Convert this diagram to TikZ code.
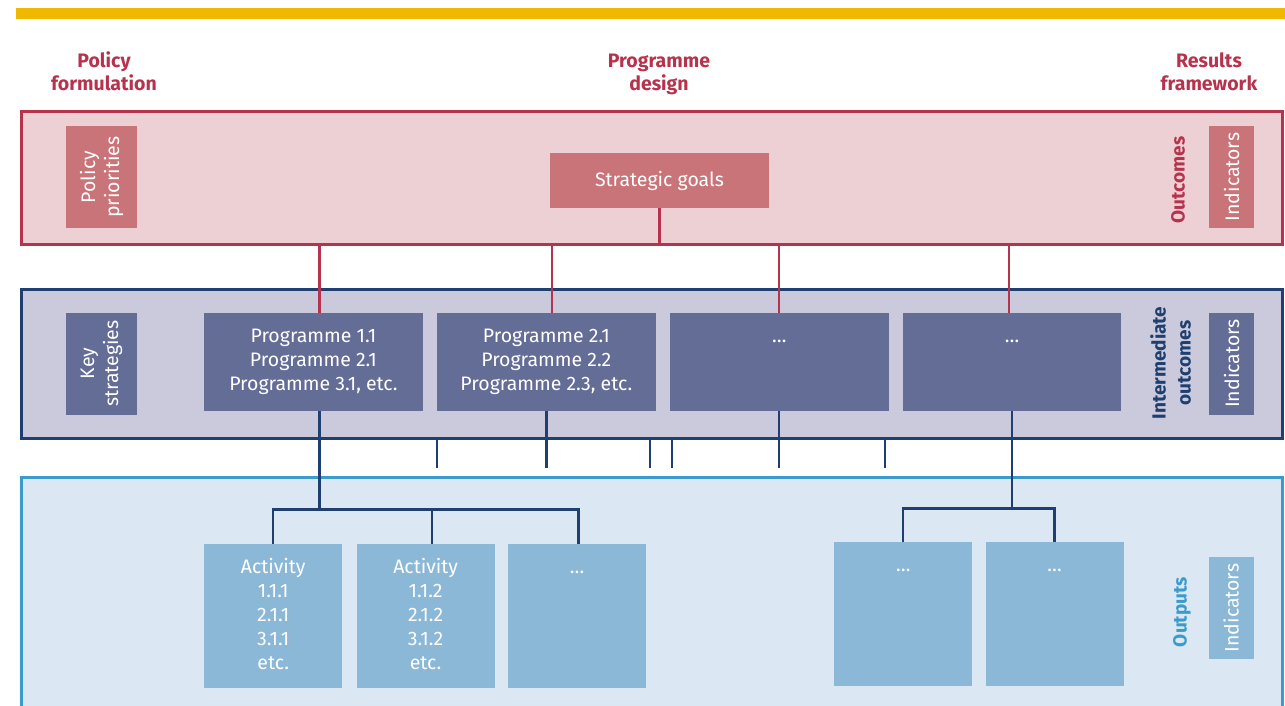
\documentclass[tikz,border=0pt]{standalone}
\usepackage{fontspec}
\setmainfont{Fira Sans}
\usetikzlibrary{positioning,calc}
\definecolor{barYellow}{HTML}{F1B800}
\definecolor{redLine}{HTML}{B7324C}
\definecolor{pinkFill}{HTML}{EDD0D3}
\definecolor{roseBox}{HTML}{C97479}
\definecolor{navyLine}{HTML}{1E3F6F}
\definecolor{lilacFill}{HTML}{CBCADC}
\definecolor{slateBox}{HTML}{646D96}
\definecolor{blueLine}{HTML}{3B9CCB}
\definecolor{skyFill}{HTML}{DBE7F3}
\definecolor{skyBox}{HTML}{8BB8D6}
\newcommand{\toptext}[2]{\parbox[c][#1][t]{110pt}{\centering\rule{0pt}{29pt}#2}}
\tikzset{
    heading/.style={
           align=center,
           text=redLine,
           font=\fontsize{19.5}{23.5}\selectfont\bfseries},
    band/.style={
           rectangle,
           line width=2.5pt,
           inner sep=0pt,
           anchor=north west,
           minimum width=1261pt},
    box/.style={
           rectangle,
           inner sep=0pt,
           text=white,
           align=center},
    sidebox/.style={
           box,
           rotate=90,
           minimum width=102pt},
    sidelabel/.style={
           rotate=90,
           inner sep=0pt,
           align=center,
           font=\fontsize{19}{25}\selectfont\bfseries},
    progbox/.style={
           box,
           fill=slateBox,
           minimum width=218.5pt,
           minimum height=98pt},
    actbox/.style={
           box,
           fill=skyBox,
           minimum width=138pt,
           minimum height=144pt},
    redlink/.style={draw=redLine, line width=2.3pt},
    navylink/.style={draw=navyLine, line width=2.3pt},
}
\begin{document}
\begin{tikzpicture}[x=1pt,y=-1pt,font=\fontsize{19.5}{24}\selectfont]
\useasboundingbox (0,0) rectangle (1285,705);

 % top rule and headings
 \fill[barYellow] (16,8) rectangle (1285,19);
 \node[heading, anchor=base] (POLICYHEAD) at (104,90.5) {Policy\\formulation};
 \node[heading, anchor=base] (DESIGNHEAD) at (659,90.5) {Programme\\design};
 \node[heading, anchor=base] (RESULTSHEAD) at (1209,90.5) {Results\\framework};

 % bands
 \node[band, draw=redLine, fill=pinkFill, minimum height=133pt] (OUTCOMEBAND) at (20,110) {};
 \node[band, draw=navyLine, fill=lilacFill, minimum height=149pt] (MIDBAND) at (20,288) {};
 \node[band, draw=blueLine, fill=skyFill, minimum height=250pt] (OUTPUTBAND) at (20,476) {};

 % outcomes
 \node[sidebox, fill=roseBox, minimum height=71pt] (POLICYPRIO) at (101.5,177) {Policy\\priorities};
 \node[box, fill=roseBox, minimum width=219pt, minimum height=55pt] (STRATGOALS) at (659.5,180.5) {Strategic goals};
 \node[sidelabel, text=redLine] (OUTCOMESLBL) at (1178,180) {Outcomes};
 \node[sidebox, fill=roseBox, minimum height=45pt] (INDTOP) at (1231.5,177) {Indicators};

 % intermediate outcomes
 \node[sidebox, fill=slateBox, minimum height=71pt] (KEYSTRAT) at (101.5,363.5) {Key\\strategies};
 \node[progbox, anchor=north west] (PROGA) at (204,313)
 {Programme 1.1\\Programme 2.1\\Programme 3.1, etc.};
 \node[progbox, right=14pt of PROGA] (PROGB)
 {Programme 2.1\\Programme 2.2\\Programme 2.3, etc.};
 \node[progbox, right=14pt of PROGB] (PROGC) {\toptext{98pt}{\ldots}};
 \node[progbox, right=14pt of PROGC] (PROGD) {\toptext{98pt}{\ldots}};
 \node[sidelabel, text=navyLine] (INTERLBL) at (1170.5,363) {Intermediate\\outcomes};
 \node[sidebox, fill=slateBox, minimum height=45pt] (INDMID) at (1231.5,363.5) {Indicators};

 % outputs
 \node[actbox, anchor=north west] (ACTA) at (204,544)
 {\toptext{144pt}{Activity\\1.1.1\\2.1.1\\3.1.1\\etc.}};
 \node[actbox, right=14pt of ACTA] (ACTB)
 {\toptext{144pt}{Activity\\1.1.2\\2.1.2\\3.1.2\\etc.}};
 \node[actbox, right=13pt of ACTB] (ACTC) {\toptext{144pt}{\ldots}};
 \node[actbox, anchor=north west] (ACTD) at (834,542) {\toptext{144pt}{\ldots}};
 \node[actbox, right=13pt of ACTD] (ACTE) {\toptext{144pt}{\ldots}};
 \node[sidelabel, text=blueLine] (OUTPUTSLBL) at (1182,612) {Outputs};
 \node[sidebox, fill=skyBox, minimum height=45pt] (INDBOT) at (1231,608) {Indicators};

 % red links
 \path[redlink] (STRATGOALS.south) -- (STRATGOALS.south |- OUTCOMEBAND.south);
 \foreach \prog/\dx in {PROGA/6,PROGB/5.5,PROGC/0,PROGD/-3.5}
   \path[redlink] ($(\prog.north)+(\dx,0)$) -- ($(\prog.north |- OUTCOMEBAND.south)+(\dx,0)$);

 % navy links
 \coordinate (LEFTFORK) at ($(PROGA.south)+(6,98)$);
 \coordinate (RIGHTFORK) at ($(PROGD.south)+(0,97)$);
 \path[navylink] ($(PROGA.south)+(6,0)$) -- (LEFTFORK);
 \path[navylink] (ACTA.north) -- (ACTA.north |- LEFTFORK)
   -- ($(ACTC.north |- LEFTFORK)+(1.5,0)$) -- ($(ACTC.north)+(1.5,0)$);
 \path[navylink] ($(ACTB.north)+(6.5,0)$) -- ($(ACTB.north |- LEFTFORK)+(6.5,0)$);
 \path[navylink] (PROGD.south) -- (RIGHTFORK);
 \path[navylink] (ACTD.north) |- (RIGHTFORK) -| (ACTE.north);
 \path[navylink] (PROGB.south) -- ($(PROGB.south |- MIDBAND.south)+(0,28)$);
 \path[navylink] (PROGC.south) -- ($(PROGC.south |- MIDBAND.south)+(0,28)$);
 \foreach \tx in {437,650,672,885}
   \path[navylink] (MIDBAND.south -| \tx,0) -- ++(0,28);

\end{tikzpicture}
\end{document}
